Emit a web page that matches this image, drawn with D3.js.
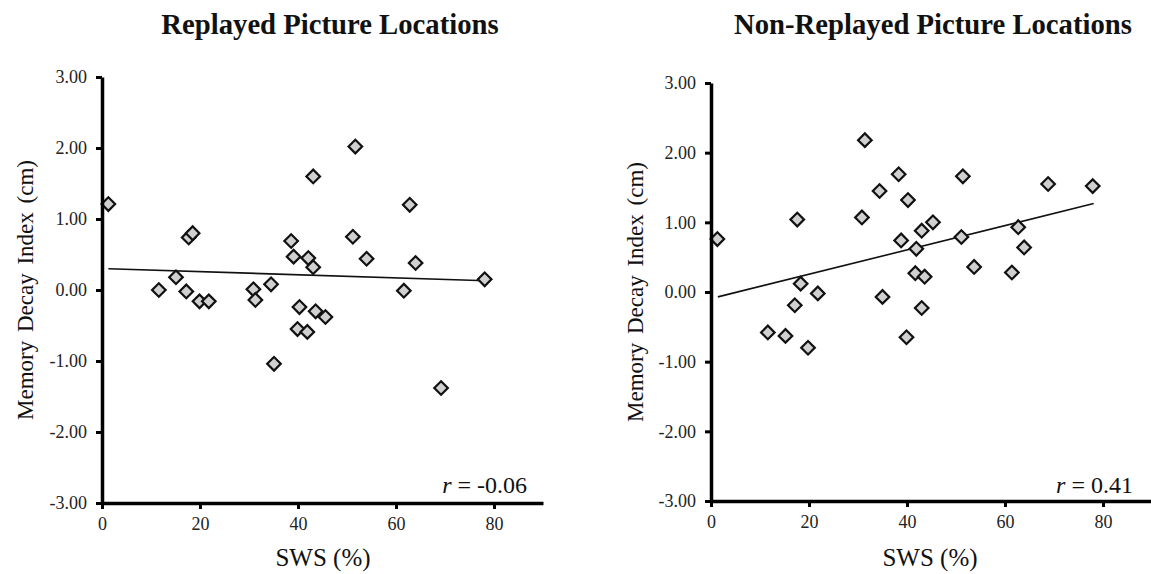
<!DOCTYPE html>
<html>
<head>
<meta charset="utf-8">
<script src="https://cdn.jsdelivr.net/npm/d3@7"></script>
<style>
  body { margin: 0; background: #fff; }
  svg text { font-family: "Liberation Serif", "Times New Roman", serif; fill: #111; }
</style>
</head>
<body>
<svg id="chart" width="1151" height="574" font-family="Liberation Serif, serif"></svg>
<script>
// values
var swsReplayed = [1.3, 11.6, 15.1, 17.2, 17.7, 18.5, 19.9, 21.8, 30.9, 31.3, 34.5, 38.6, 39.1, 51.7, 43.1,
  62.8, 51.2, 42.1, 43.1, 54.0, 64.0, 78.1, 61.6, 40.3, 43.6, 45.6, 39.9, 41.9, 35.1, 69.2];
var decayReplayed = [1.21, 0.00, 0.18, -0.02, 0.74, 0.80, -0.16, -0.16, 0.01, -0.14, 0.08, 0.69, 0.47, 2.02, 1.60,
  1.20, 0.75, 0.45, 0.32, 0.44, 0.38, 0.15, -0.01, -0.24, -0.30, -0.38, -0.55, -0.59, -1.04, -1.38];

var swsNonReplayed = [1.3, 17.6, 31.4, 38.3, 51.4, 34.4, 40.2, 30.8, 45.3, 43.0, 38.8, 51.1, 41.9, 53.7, 41.7,
  43.6, 18.3, 21.8, 35.0, 17.1, 43.0, 11.6, 15.2, 39.9, 19.8, 68.8, 77.9, 62.7, 63.9, 61.4];
var decayNonReplayed = [0.76, 1.04, 2.18, 1.69, 1.66, 1.45, 1.32, 1.07, 1.00, 0.88, 0.74, 0.79, 0.62, 0.36, 0.27,
  0.22, 0.12, -0.02, -0.07, -0.19, -0.23, -0.58, -0.63, -0.65, -0.80, 1.55, 1.52, 0.93, 0.64, 0.28];

// fitted line end points as drawn
var trendReplayedX = [1.3, 78.4], trendReplayedY = [0.30, 0.13];
var trendNonReplayedX = [1.4, 78.1], trendNonReplayedY = [-0.07, 1.27];

var xTicks = [0, 20, 40, 60, 80];
var yTicks = [-3, -2, -1, 0, 1, 2, 3];
var titles = ["Replayed Picture Locations", "Non-Replayed Picture Locations"];
var rValues = ["-0.06", "0.41"];

var serif = '"Liberation Serif", "Times New Roman", serif';
var svg = d3.select('#chart');

var panels = [
  { xs: swsReplayed, ys: decayReplayed, tx: trendReplayedX, ty: trendReplayedY, title: titles[0], r: rValues[0],
    left: 102, right: 543, top: 77, bottom: 503, titleX: 330, yLabelX: 25, xLabelX: 323, rX: 527 },
  { xs: swsNonReplayed, ys: decayNonReplayed, tx: trendNonReplayedX, ty: trendNonReplayedY, title: titles[1], r: rValues[1],
    left: 711, right: 1152, top: 83, bottom: 501, titleX: 933, yLabelX: 635, xLabelX: 930, rX: 1133 }
];

panels.forEach(function(p){
  var x = d3.scaleLinear().domain([0, 90]).range([p.left, p.right]);
  var y = d3.scaleLinear().domain([-3, 3]).range([p.bottom, p.top]);
  var g = svg.append('g');

  g.append('text')
    .attr('x', p.titleX).attr('y', 34)
    .attr('text-anchor', 'middle')
    .style('font-family', serif)
    .style('font-size', '28.7px').style('font-weight', 'bold')
    .text(p.title);

  // trend line
  g.append('line')
    .attr('x1', x(p.tx[0])).attr('y1', y(p.ty[0]))
    .attr('x2', x(p.tx[1])).attr('y2', y(p.ty[1]))
    .style('stroke', '#111').style('stroke-width', '1.6px');

  var pts = p.xs.map(function(v, i){ return [v, p.ys[i]]; });
  g.selectAll('path.pt')
    .data(pts)
  .enter().append('path')
    .attr('class', 'pt')
    .attr('d', d3.symbol().type(d3.symbolSquare).size(92))
    .attr('transform', function(d){ return 'translate(' + x(d[0]) + ',' + y(d[1]) + ') rotate(45)'; })
    .style('fill', '#d0d0d0')
    .style('stroke', '#111')
    .style('stroke-width', '2.2px');

  var ya = g.append('g')
    .attr('transform', 'translate(' + p.left + ',0)')
    .call(d3.axisLeft(y).tickValues(yTicks).tickSizeInner(6).tickSizeOuter(0).tickPadding(9)
      .tickFormat(function(d){ return d.toFixed(2); }));

  var xa = g.append('g')
    .attr('transform', 'translate(0,' + p.bottom + ')')
    .call(d3.axisBottom(x).tickValues(xTicks).tickSizeInner(6).tickSizeOuter(0).tickPadding(8));

  [ya, xa].forEach(function(a){
    a.attr('font-family', serif).attr('font-size', 18);
    a.select('.domain').style('stroke', '#000').style('stroke-width', '3.5px');
    a.selectAll('.tick line').style('stroke', '#000').style('stroke-width', '3px');
    a.selectAll('.tick text')
      .style('font-family', serif)
      .style('font-size', '18px').style('fill', '#222');
  });

  g.append('text')
    .attr('transform', 'translate(' + p.yLabelX + ',' + ((p.top + p.bottom) / 2) + ') rotate(-90)')
    .attr('text-anchor', 'middle')
    .attr('dy', '0.35em')
    .style('font-family', serif)
    .style('font-size', '23px').style('word-spacing', '3px')
    .text('Memory Decay Index (cm)');

  g.append('text')
    .attr('x', p.xLabelX).attr('y', 566)
    .attr('text-anchor', 'middle')
    .style('font-family', serif)
    .style('font-size', '25px')
    .text('SWS (%)');

  var rt = g.append('text')
    .attr('x', p.rX).attr('y', 493)
    .attr('text-anchor', 'end')
    .style('font-family', serif)
    .style('font-size', '24px');
  rt.append('tspan').style('font-style', 'italic').text('r');
  rt.append('tspan').text(' = ' + p.r);
});
</script>
</body>
</html>
